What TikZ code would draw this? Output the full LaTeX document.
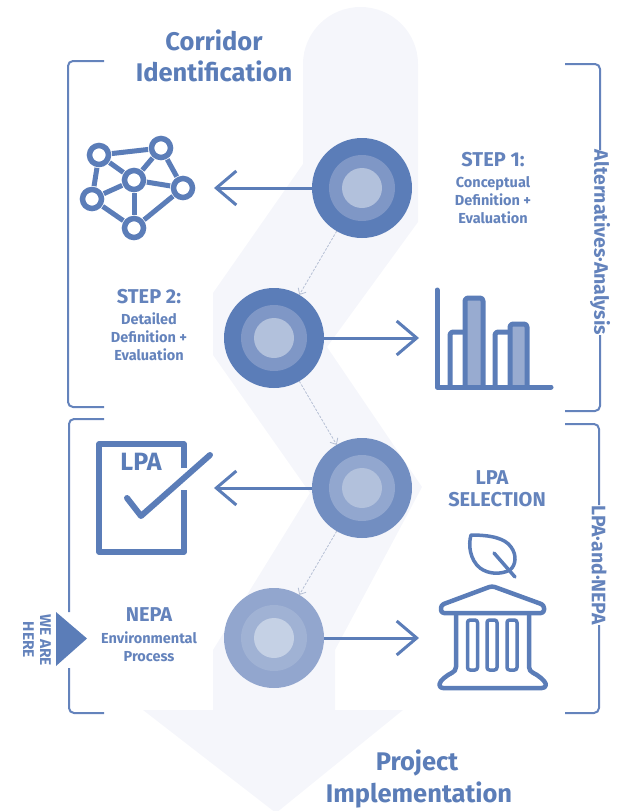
\documentclass[tikz,border=0pt]{standalone}
\usepackage{fontspec}
\setmainfont{Fira Sans}
\usetikzlibrary{arrows.meta}
\definecolor{main}{HTML}{5B7DB8}
\definecolor{txt}{HTML}{6483BC}
\definecolor{midc}{HTML}{7F97C6}
\definecolor{inc}{HTML}{B2C1DC}
\definecolor{bandc}{HTML}{F5F6FB}
\definecolor{barc}{HTML}{98ABD0}
\definecolor{dashc}{HTML}{B5BFD4}
\tikzset{
  disc/.style={circle,minimum size=100pt,inner sep=0pt,outer sep=0pt,fill=#1},
  conn/.style={draw=main,line width=3pt,-{Straight Barb[length=20pt,width=34pt,line width=3pt]}},
  dashconn/.style={draw=dashc,line width=.8pt,dashed,dash pattern=on 2.5pt off 1.5pt,-{Straight Barb[length=5pt,width=9pt,line width=.8pt]}},
  brack/.style={draw=txt,line width=2pt,rounded corners=5pt},
  ring/.style={circle,draw=main,line width=5.5pt,minimum size=19pt,inner sep=0pt,outer sep=3.5pt},
  netedge/.style={draw=main,line width=5pt},
  icon/.style={draw=main,line width=5pt,line join=round,line cap=round},
  temple/.style={draw=main,line width=4.5pt,line join=round,line cap=round},
  title/.style={text=main,font=\bfseries\fontsize{25.5}{28}\selectfont,align=center,inner sep=0pt},
  head/.style={text=txt,font=\bfseries\fontsize{20}{22}\selectfont,align=center,inner sep=0pt},
  small/.style={text=txt,font=\bfseries\fontsize{14.5}{18}\selectfont,align=center,inner sep=0pt},
  side/.style={text=txt,font=\bfseries\fontsize{19.5}{20}\selectfont,rotate=-90,inner sep=0pt},
}
\begin{document}
\begin{tikzpicture}[x=1pt,y=-1pt]
\useasboundingbox (0,0) rectangle (619,811);
% pale band
\fill[bandc] (303,64) arc[start angle=180,end angle=0,radius=57.5,y radius=-57]
  -- (418,222) -- (327,347) -- (422,487) -- (335,650) -- (335,710) -- (403,710)
  -- (276,813) -- (143,710) -- (213,710) -- (213,650) -- (310,493) -- (213,355)
  -- (213,293) -- (303,164) -- cycle;
% discs
\node[disc=main] (c1) at (362,188) {};
\fill[midc] (c1) circle (33); \fill[inc] (c1) circle (20);
\node[disc=main] (c2) at (274,338) {};
\fill[midc] (c2) circle (33); \fill[inc] (c2) circle (20);
\node[disc=midc!65!main] (c3) at (362,488) {};
\fill[midc!85!white] (c3) circle (33); \fill[inc] (c3) circle (20);
\node[disc=barc!90!main] (c4) at (274,638) {};
\fill[barc!92!white] (c4) circle (33); \fill[inc!75!white] (c4) circle (20);
% connectors
\coordinate (t1) at (214,188);
\coordinate (t2) at (419,338);
\coordinate (t3) at (214,488);
\coordinate (t4) at (419,638);
\draw[conn] (c1.west) -- (t1);
\draw[conn] (c2.east) -- (t2);
\draw[conn] (c3.west) -- (t3);
\draw[conn] (c4.east) -- (t4);
\draw[dashconn] (c1) -- (c2);
\draw[dashconn] (c2) -- (c3);
\draw[dashconn] (c3) -- (c4);
% brackets
\draw[brack] (104,61) -- (68,61) -- (68,407) -- (104,407);
\draw[brack] (104,419) -- (69,419) -- (69,612);
\draw[brack] (69,668) -- (69,713) -- (104,713);
\draw[brack] (565,64) -- (600,64) -- (600,150);
\draw[brack] (600,335) -- (600,411) -- (565,411);
\draw[brack] (565,424) -- (599,424) -- (599,505);
\draw[brack] (599,625) -- (599,713) -- (565,713);
% texts
\node[title] (tcorr) at (214,40) {Corridor};
\node[title] (tiden) at (214,71) {Identification};
\node[title] (tproj) at (417,763) {Project};
\node[title] (timpl) at (419,795) {Implementation};
\node[head] (s1) at (493,160) {STEP 1:};
\node[small] (s1b) at (493,200) {Conceptual\\Definition +\\Evaluation};
\node[head] (s2) at (149,297) {STEP 2:};
\node[small] (s2b) at (149,337) {Detailed\\Definition +\\Evaluation};
\node[head] (l1) at (492,478) {LPA};
\node[head] (l2) at (497,500) {SELECTION};
\node[head] (n1) at (149,615) {NEPA};
\node[small] (n2) at (149,646.5) {Environmental\\Process};
\node[side] (altern) at (600,242.5) {Alternatives·Analysis};
\node[side] (lpanepa) at (599,565) {LPA·and·NEPA};
% we are here
\fill[main] (56,612) -- (87,638.5) -- (56,666) -- cycle;
\node[text=txt,font=\bfseries\fontsize{15.5}{17}\selectfont,rotate=-90,align=center,inner sep=0pt] (here) at (37,640) {WE ARE\\HERE};
% network icon
\node[ring] (na) at (99,155) {};
\node[ring] (nb) at (161,148) {};
\node[ring] (nc) at (134,180) {};
\node[ring] (nd) at (183,188) {};
\node[ring] (ne) at (92,199) {};
\node[ring] (nf) at (134,228) {};
\foreach \p/\q in {na/nb,na/nc,nb/nc,nb/nd,nc/nd,nc/ne,nc/nf,na/ne,ne/nf,nd/nf}
  \draw[netedge] (\p) -- (\q);
% chart icon
\fill[barc] (465,298) rectangle (483,385);
\fill[barc] (510,324) rectangle (527,385);
\draw[icon] (437,290) -- (437,387) -- (551,387);
\draw[icon,line cap=butt,rounded corners=3pt] (450,385) -- (450,332) -- (465,332);
\draw[icon,line cap=butt,rounded corners=3pt] (465,385) -- (465,298) -- (483,298) -- (483,385);
\draw[icon,line cap=butt,rounded corners=3pt] (495,385) -- (495,332) -- (510,332);
\draw[icon,line cap=butt,rounded corners=3pt] (510,385) -- (510,324) -- (527,324) -- (527,385);
% LPA icon
\draw[icon,line cap=butt,line width=5.5pt] (184,468) -- (184,444) -- (99,444) -- (99,552) -- (184,552) -- (184,490);
\draw[icon,line width=6pt] (127,498) -- (141,516) -- (210,455);
\node[text=main,font=\bfseries\fontsize{25}{27}\selectfont,inner sep=0pt] (lpatxt) at (141,462) {LPA};
% temple icon
\draw[temple,rounded corners=3pt] (492,586) -- (441,605) -- (441,613) -- (544,613) -- (544,605) -- cycle;
\draw[temple] (456,615) -- (456,667) .. controls (456,673) and (449,673) .. (444,678) -- (441,681) .. controls (438,685) and (440,688) .. (443,688) -- (542,688) .. controls (546,688) and (547,684) .. (544,681) -- (541,678) .. controls (536,673) and (529,673) .. (529,667) -- (529,615);
\foreach \x in {472.5,492,512}
  \draw[temple,line width=3.5pt,rounded corners=2.5pt] (\x-5,620) rectangle (\x+5,670);
\draw[temple,line width=3.5pt] (471,535) .. controls (490,535) and (505,538) .. (511,547) .. controls (517,555) and (516,565) .. (510,570) .. controls (500,575) and (488,574) .. (480,568) .. controls (470,560) and (468,545) .. (471,535) -- cycle;
\draw[temple,line width=3.5pt] (494,553) -- (515,577);
\end{tikzpicture}
\end{document}
